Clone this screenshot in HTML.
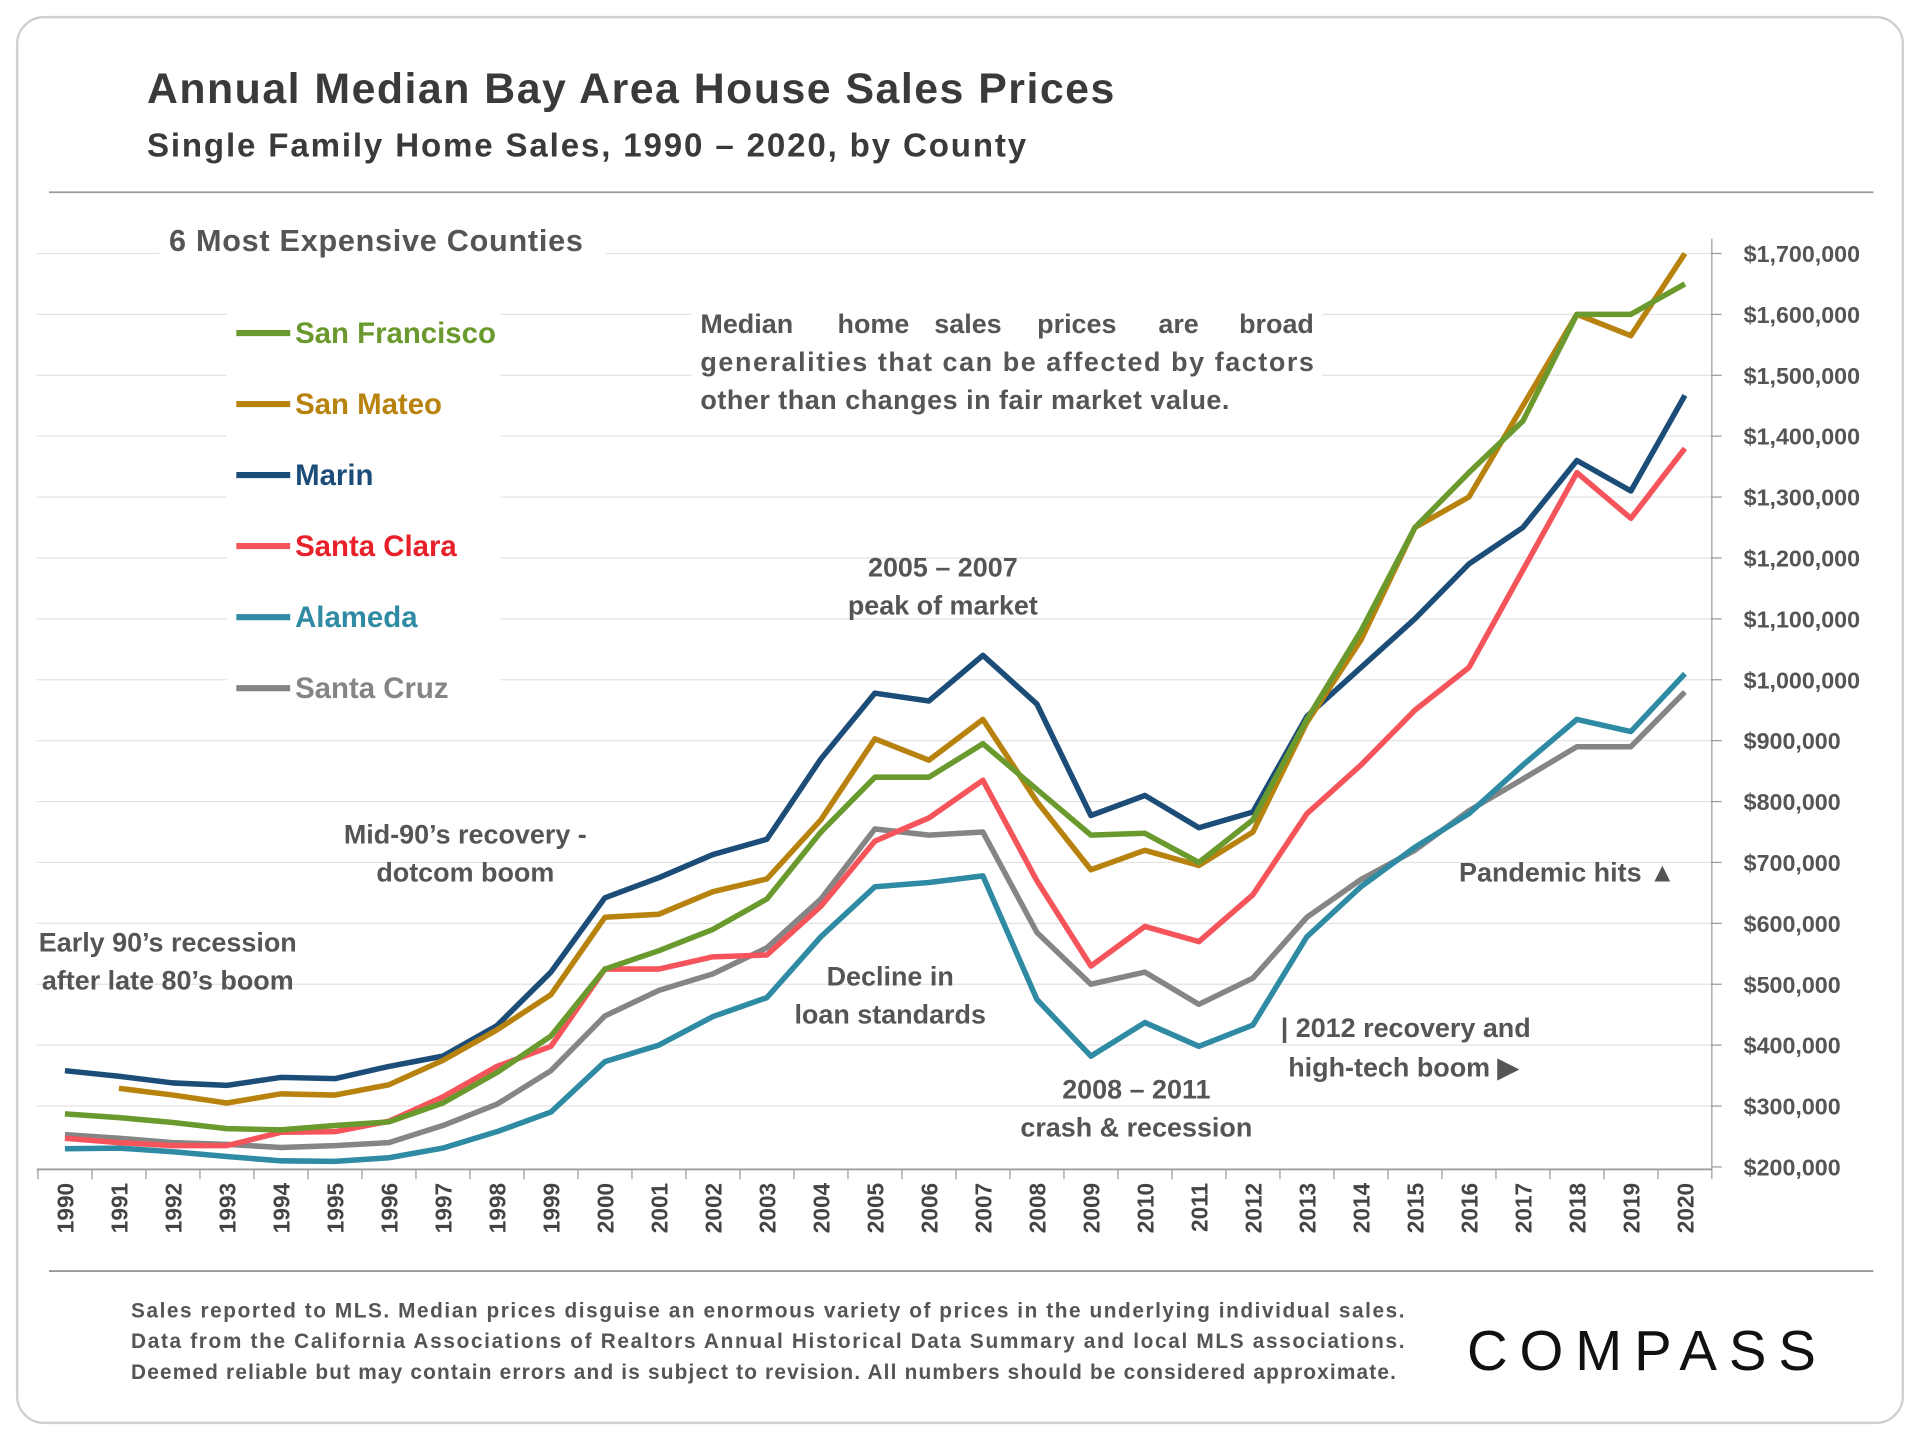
<!DOCTYPE html>
<html><head><meta charset="utf-8"><style>
html,body{margin:0;padding:0;background:#fff;width:1920px;height:1440px;overflow:hidden}
svg{display:block}
text{font-family:"Liberation Sans",sans-serif;font-weight:bold}
</style></head><body>
<svg id="chart" width="1920" height="1440" viewBox="0 0 1568 1176">
<rect x="14" y="14" width="1540" height="1148" rx="22" fill="#fff" stroke="#d0d0d0" stroke-width="2"/>
<text x="120" y="84" font-size="35" fill="#3a3a3a" textLength="790" lengthAdjust="spacing">Annual Median Bay Area House Sales Prices</text>
<text x="120" y="128" font-size="27" fill="#3a3a3a" textLength="718" lengthAdjust="spacing">Single Family Home Sales, 1990 – 2020, by County</text>
<line x1="40" y1="157" x2="1530" y2="157" stroke="#999" stroke-width="1.5"/>
<g id="grid"></g>
<g id="axes"></g>
<rect x="130" y="180" width="365" height="36" fill="#fff"/>
<text x="138" y="205" font-size="25" fill="#555" textLength="338" lengthAdjust="spacing">6 Most Expensive Counties</text>
<rect x="185" y="240" width="224" height="345" fill="#fff"/>
<g id="legend"></g>
<rect x="565" y="240" width="515" height="100" fill="#fff"/>
<g font-size="22" fill="#555">
<text x="572" y="272">Median</text><text x="684" y="272">home</text><text x="763" y="272">sales</text><text x="847" y="272">prices</text><text x="946" y="272">are</text><text x="1073" y="272" text-anchor="end">broad</text>
<text x="572" y="303" textLength="501" lengthAdjust="spacing">generalities that can be affected by factors</text>
<text x="572" y="334" textLength="432" lengthAdjust="spacing">other than changes in fair market value.</text>
</g>
<g id="series"></g>
<g font-size="22" fill="#555" text-anchor="middle">
<text x="770" y="471">2005 – 2007</text><text x="770" y="502">peak of market</text>
<text x="380" y="689">Mid-90’s recovery -</text><text x="380" y="720">dotcom boom</text>
<text x="137" y="777">Early 90’s recession</text><text x="137" y="808">after late 80’s boom</text>
<text x="727" y="805">Decline in</text><text x="727" y="836">loan standards</text>
<text x="928" y="897">2008 – 2011</text><text x="928" y="928">crash &amp; recession</text>
<text x="1148" y="847">| 2012 recovery and</text><text x="1146" y="879">high-tech boom ▶</text>
<text x="1280" y="720">Pandemic hits ▲</text>
</g>
<line x1="40" y1="1038" x2="1530" y2="1038" stroke="#999" stroke-width="1.5"/>
<g font-size="17" fill="#555">
<text x="107" y="1076" textLength="1040" lengthAdjust="spacing">Sales reported to MLS. Median prices disguise an enormous variety of prices in the underlying individual sales.</text>
<text x="107" y="1101" textLength="1040" lengthAdjust="spacing">Data from the California Associations of Realtors Annual Historical Data Summary and local MLS associations.</text>
<text x="107" y="1126" textLength="1033" lengthAdjust="spacing">Deemed reliable but may contain errors and is subject to revision. All numbers should be considered approximate.</text>
</g>
<text x="1198" y="1119" font-size="46" fill="#111" textLength="285" lengthAdjust="spacing" style="font-weight:normal">COMPASS</text>
</svg>
<script>
const years=[1990,1991,1992,1993,1994,1995,1996,1997,1998,1999,2000,2001,2002,2003,2004,2005,2006,2007,2008,2009,2010,2011,2012,2013,2014,2015,2016,2017,2018,2019,2020];
const yTicks=[200000,300000,400000,500000,600000,700000,800000,900000,1000000,1100000,1200000,1300000,1400000,1500000,1600000,1700000];
const seriesNames=["San Francisco","San Mateo","Marin","Santa Clara","Alameda","Santa Cruz"];
const seriesColors=["#6a9a2e","#b8820e","#1c4d78","#f5545b","#2f8ba3","#858585"];
const sanFrancisco=[287,281,273,263,261,268,274,305,355,415,525,555,590,640,750,840,840,895,820,745,748,700,770,935,1080,1250,1340,1425,1600,1600,1650];
const sanMateo=[null,329,318,305,320,318,335,375,425,483,610,615,652,673,770,903,868,935,800,688,720,695,750,930,1065,1250,1300,1450,1600,1565,1700];
const marin=[358,349,338,334,347,345,365,382,432,520,642,675,713,738,870,978,965,1040,960,777,810,757,783,940,1020,1100,1190,1250,1360,1310,1467];
const santaClara=[247,240,235,235,257,258,275,315,365,398,525,525,545,548,628,735,773,835,670,530,595,570,647,780,860,950,1020,1180,1340,1265,1380];
const alameda=[230,231,225,217,210,209,215,231,258,290,373,400,447,478,578,660,667,678,475,382,437,398,433,578,660,725,780,860,935,915,1010];
const santaCruz=[253,247,240,237,232,235,240,268,303,358,448,490,517,560,640,755,745,750,585,500,520,467,510,610,672,720,785,837,890,890,980];
const allSeries=[sanFrancisco,sanMateo,marin,santaClara,alameda,santaCruz];
const NS="http://www.w3.org/2000/svg";
const xS=y=>53+(y-1990)*44.1;
const yS=v=>953-(v-200000)*(746/1500000);
function mk(tag,attrs,parent){const e=document.createElementNS(NS,tag);for(const k in attrs)e.setAttribute(k,attrs[k]);parent.appendChild(e);return e;}
const grid=document.getElementById('grid'),axes=document.getElementById('axes'),ser=document.getElementById('series'),leg=document.getElementById('legend');
yTicks.forEach(t=>{const y=yS(t);
 if(t>200000){const g=mk('line',{x1:30,x2:1398,y1:y,y2:y,stroke:'#e2e2e2','stroke-width':1},grid);
 
 }
 const tk=mk('line',{x1:1398,x2:1406,y1:y,y2:y,stroke:'#999','stroke-width':1},axes);
 
 
 const lb=mk('text',{x:1424,y:y+7,'font-size':19,fill:'#555'},axes);lb.textContent='$'+t.toLocaleString('en-US');
 
 
});
const ax=mk('line',{x1:1398,x2:1398,y1:195,y2:955,stroke:'#999','stroke-width':1},axes);


const xa=mk('line',{x1:30,x2:1398,y1:955,y2:955,stroke:'#999','stroke-width':1.5},axes);


years.forEach((yr,i)=>{const x=xS(yr);
 const tk=mk('line',{x1:x-22,x2:x-22,y1:955,y2:963,stroke:'#999','stroke-width':1},axes);
 
 
 const lb=mk('text',{x:0,y:0,'font-size':18.5,fill:'#444','text-anchor':'end',transform:`translate(${x+7},966) rotate(-90)`},axes);lb.textContent=yr;
 
 
});
mk('line',{x1:xS(2020)+22,x2:xS(2020)+22,y1:955,y2:963,stroke:'#999'},axes);
[5,4,3,2,1,0].forEach(si=>{const d=allSeries[si];let p='';
 d.forEach((v,i)=>{if(v==null)return;p+=(p?'L':'M')+xS(years[i]).toFixed(1)+','+yS(v*1000).toFixed(1);});
 const pl=mk('path',{d:p,fill:'none',stroke:seriesColors[si],'stroke-width':4.5,'stroke-linejoin':'round'},ser);
 
 
});
seriesNames.forEach((n,i)=>{const y=272+i*58;
 const l=mk('line',{x1:193,x2:237,y1:y,y2:y,stroke:seriesColors[i],'stroke-width':5},leg);
 
 
 const t=mk('text',{x:241,y:y+8,'font-size':24,fill:seriesColors[i]==='#f5545b'?'#e8202a':seriesColors[i]},leg);t.textContent=n;
 
 
});
</script>
</body></html>
